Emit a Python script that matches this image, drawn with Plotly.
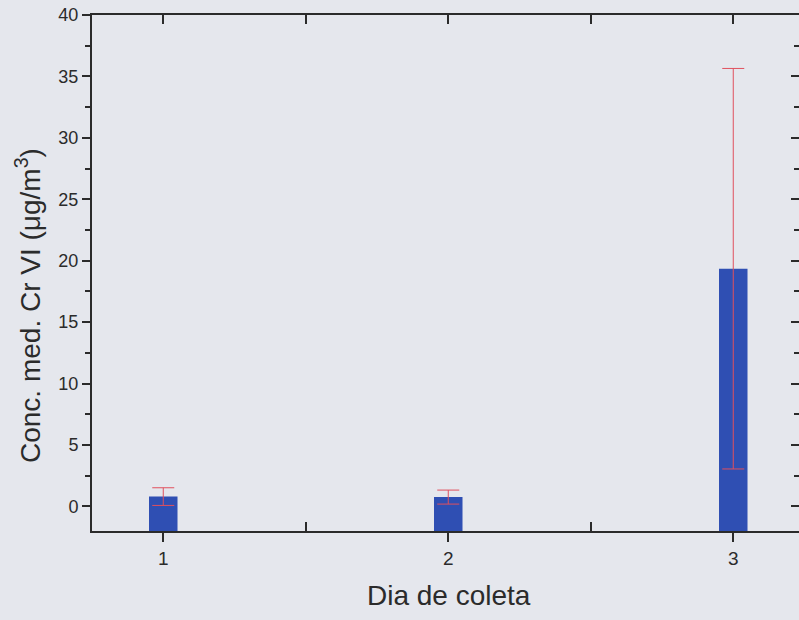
import plotly.graph_objects as go

days = [1, 2, 3]
conc_mean = [0.80, 0.76, 19.35]
conc_err = [0.72, 0.57, 16.3]
x_tick_labels = ["1", "2", "3"]
y_tick_vals = [0, 5, 10, 15, 20, 25, 30, 35, 40]
x_title = "Dia de coleta"
y_title = "Conc. med. Cr VI (μg/m<sup>3</sup>)"

bg = "#e5e7ed"
axis_col = "#2b2b2b"
font_fam = "Liberation Sans, Arial, sans-serif"

xr = [0.75, 0.75 + (799 - 92) / 285]
yr = [-2, 40]
y_floor = yr[0]

fig = go.Figure()
# bars drawn from the bottom of the axis up to the mean value
fig.add_trace(go.Bar(
    x=days, y=[m - y_floor for m in conc_mean], base=y_floor, width=0.1,
    marker=dict(color="#2f4fb3", line=dict(width=0)),
    showlegend=False, hoverinfo="skip",
))
# error bars centred on the mean values
fig.add_trace(go.Scatter(
    x=days, y=conc_mean, mode="markers", marker=dict(opacity=0, size=1),
    error_y=dict(type="data", array=conc_err, visible=True,
                 color="#e0505e", thickness=1, width=11),
    showlegend=False, hoverinfo="skip",
))
# invisible trace to activate the mirrored axes
fig.add_trace(go.Scatter(x=days, y=conc_mean, xaxis="x2", yaxis="y2",
                         mode="markers", marker=dict(opacity=0),
                         showlegend=False, hoverinfo="skip"))

fig.update_layout(
    width=799, height=620,
    margin=dict(l=92, r=0, t=15, b=89),
    paper_bgcolor=bg, plot_bgcolor=bg,
    font=dict(family=font_fam, color=axis_col),
    xaxis=dict(range=xr, tickvals=days, ticktext=x_tick_labels,
               ticks="outside", ticklen=9, tickwidth=2, tickcolor=axis_col,
               showline=True, linecolor=axis_col, linewidth=2,
               showgrid=False, zeroline=False,
               tickfont=dict(size=19),
               minor=dict(tickvals=[1.5, 2.5], ticks="inside", ticklen=9,
                          tickwidth=1.5, tickcolor=axis_col, showgrid=False)),
    xaxis2=dict(range=xr, overlaying="x", side="top", anchor="y",
                tickvals=[1, 1.5, 2, 2.5, 3], ticks="inside", ticklen=9,
                tickwidth=1.5, tickcolor=axis_col, showticklabels=False,
                showline=True, linecolor=axis_col, linewidth=2,
                showgrid=False, zeroline=False),
    yaxis=dict(range=yr, tickvals=y_tick_vals,
               ticks="outside", ticklen=8, tickwidth=2, tickcolor=axis_col,
               showline=True, linecolor=axis_col, linewidth=2,
               showgrid=False, zeroline=False,
               tickfont=dict(size=18),
               minor=dict(dtick=2.5, tick0=2.5, ticks="outside", ticklen=5,
                          tickwidth=1.5, tickcolor=axis_col, showgrid=False)),
    yaxis2=dict(range=yr, overlaying="y", side="right", anchor="x",
                tickvals=y_tick_vals, ticks="inside", ticklen=8,
                tickwidth=2, tickcolor=axis_col, showticklabels=False,
                showline=False, showgrid=False, zeroline=False,
                minor=dict(dtick=2.5, tick0=2.5, ticks="inside", ticklen=5,
                           tickwidth=1.5, tickcolor=axis_col, showgrid=False)),
    annotations=[
        dict(text=x_title, xref="paper", yref="paper",
             x=(449 - 92) / 707, y=-0.125, xanchor="center", yanchor="middle",
             showarrow=False, font=dict(size=28, color=axis_col)),
        dict(text=y_title, xref="paper", yref="paper", textangle=-90,
             x=(28 - 92) / 707, y=(531 - 306) / 516,
             xanchor="center", yanchor="middle",
             showarrow=False, font=dict(size=28, color=axis_col)),
    ],
)

fig.write_html("out.html", config={"displayModeBar": False},
               post_script="document.body.style.margin='0';document.body.style.overflow='hidden';")
